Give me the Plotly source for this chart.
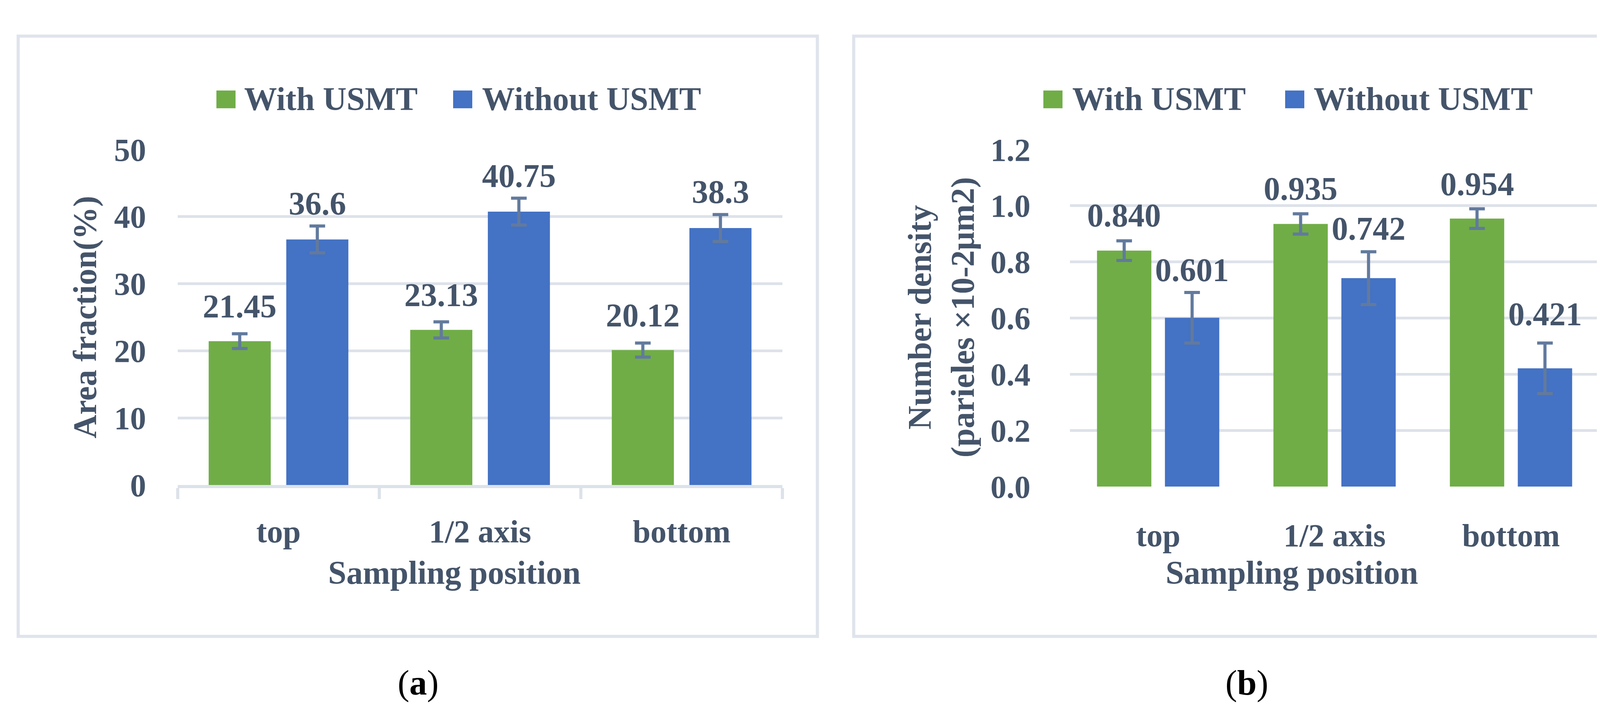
import plotly.graph_objects as go

# ---------------- data ----------------
categories = ["top", "1/2 axis", "bottom"]
series_names = ["With USMT", "Without USMT"]

area_with = [21.45, 23.13, 20.12]
area_without = [36.6, 40.75, 38.3]
area_with_err = [1.1, 1.2, 1.05]
area_without_err = [2.0, 2.0, 2.0]

dens_with = [0.840, 0.935, 0.954]
dens_without = [0.601, 0.742, 0.421]
dens_with_err = [0.035, 0.036, 0.035]
dens_without_err = [0.09, 0.094, 0.09]

area_yticks = [0, 10, 20, 30, 40, 50]
dens_yticks = [0.0, 0.2, 0.4, 0.6, 0.8, 1.0, 1.2]

title_a_y = "Area fraction(%)"
title_b_y = "Number density<br>(parieles ×10-2μm2)"
title_x = "Sampling position"
captions = ["(<b>a</b>)", "(<b>b</b>)"]

# ---------------- style ----------------
W, H = 4218, 1849
GREEN = "#70AD47"
BLUE = "#4472C4"
ERR = "#627A9D"
GRID = "#DDE2EA"
TXT = "#44546A"
FONT = "Liberation Serif"
FS = 84
BARGAP = 0.23
BARGROUPGAP = 0.2

def px(x):
    return x / W

def py(y):
    return 1 - y / H

fig = go.Figure()

panels = [
    dict(xa="x", ya="y", vals=[area_with, area_without],
         errs=[area_with_err, area_without_err],
         fmt=lambda v: f"{v:g}", shifts=[[41, 41, 41], [43, 43, 44]]),
    dict(xa="x2", ya="y2", vals=[dens_with, dens_without],
         errs=[dens_with_err, dens_without_err],
         fmt=lambda v: f"{v:.3f}", shifts=[[42, 42, 40], [74, 78, 90]]),
]
colors = [GREEN, BLUE]

annotations = []
off = (1 - BARGAP) / 4
for p in panels:
    for si in range(2):
        fig.add_trace(go.Bar(
            x=categories, y=p["vals"][si], name=series_names[si],
            marker=dict(color=colors[si], line=dict(width=0)),
            error_y=dict(type="data", array=p["errs"][si], color=ERR,
                         thickness=8, width=20),
            xaxis=p["xa"], yaxis=p["ya"], showlegend=False,
        ))
        for ci, v in enumerate(p["vals"][si]):
            annotations.append(dict(
                x=ci + (-off if si == 0 else off), y=v,
                xref=p["xa"], yref=p["ya"], text=p["fmt"](v),
                showarrow=False, xanchor="center", yanchor="bottom",
                yshift=p["shifts"][si][ci],
                font=dict(family=FONT, size=FS, color=TXT, weight="bold"),
            ))

# axis titles
annotations.append(dict(x=px(210), y=py(800), xref="paper", yref="paper",
                        text=title_a_y, textangle=-90, showarrow=False,
                        xanchor="center", yanchor="middle",
                        font=dict(family=FONT, size=FS, color=TXT, weight="bold")))
annotations.append(dict(x=px(2402), y=py(800), xref="paper", yref="paper",
                        text=title_b_y, textangle=-90, showarrow=False,
                        xanchor="center", yanchor="middle",
                        font=dict(family=FONT, size=FS, color=TXT, weight="bold")))
for cx in (1155, 3299):
    annotations.append(dict(x=px(cx), y=py(1488), xref="paper", yref="paper",
                            text=title_x, showarrow=False,
                            xanchor="center", yanchor="middle",
                            font=dict(family=FONT, size=FS, color=TXT, weight="bold")))
# captions
for cx, cap in zip((1062, 3184), captions):
    annotations.append(dict(x=px(cx), y=py(1785), xref="paper", yref="paper",
                            text=cap, showarrow=False,
                            xanchor="center", yanchor="middle",
                            font=dict(family=FONT, size=90, color="#000000")))

# legends (manual)
shapes = []
legend_pos = [
    [(546, 615), (1152, 1224)],
    [(2663, 2735), (3282, 3353)],
]
for lp in legend_pos:
    for si, (sx, tx) in enumerate(lp):
        shapes.append(dict(type="rect", xref="paper", yref="paper",
                           x0=px(sx), x1=px(sx + 49), y0=py(237), y1=py(189),
                           fillcolor=colors[si], line=dict(width=0)))
        annotations.append(dict(x=px(tx), y=py(212), xref="paper", yref="paper",
                                text=series_names[si], showarrow=False,
                                xanchor="left", yanchor="middle",
                                font=dict(family=FONT, size=FS, color=TXT, weight="bold")))

# panel boxes
for x0, x1 in ((38.5, 2084.5), (2177.5, 4183.5)):
    shapes.append(dict(type="rect", xref="paper", yref="paper",
                       x0=px(x0), x1=px(x1), y0=py(1659.5), y1=py(42.5),
                       line=dict(color="#DFE4EC", width=8), fillcolor="rgba(0,0,0,0)",
                       layer="below"))

tickfont = dict(family=FONT, size=82, color=TXT, weight="bold")

fig.update_layout(
    width=W, height=H, margin=dict(l=0, r=0, t=0, b=0),
    paper_bgcolor="white", plot_bgcolor="white",
    barmode="group", bargap=BARGAP, bargroupgap=BARGROUPGAP,
    showlegend=False,
    font=dict(family=FONT, color=TXT),
    annotations=annotations, shapes=shapes,
    xaxis=dict(domain=[px(447), px(1995)], anchor="y", type="category",
               showgrid=False, showline=True, linecolor=GRID, linewidth=8,
               ticks="outside", tickson="boundaries", ticklen=28, tickwidth=8,
               tickcolor=GRID, tickfont=tickfont, ticklabelstandoff=40,
               zeroline=False),
    yaxis=dict(domain=[py(1252), py(348)], anchor="x", range=[0, 50],
               tickvals=area_yticks, showgrid=True, gridcolor=GRID, gridwidth=7,
               zeroline=False, showline=False, ticks="", tickfont=tickfont,
               ticklabelstandoff=80),
    xaxis2=dict(domain=[px(2731), px(4086)], anchor="y2", type="category",
                showgrid=False, showline=False, ticks="", tickfont=tickfont,
                ticklabelstandoff=70, zeroline=False),
    yaxis2=dict(domain=[py(1256), py(348)], anchor="x2", range=[0, 1.2],
                tickvals=dens_yticks, tickformat=".1f", showgrid=True,
                gridcolor=GRID, gridwidth=7, zeroline=False, showline=False,
                ticks="", tickfont=tickfont, ticklabelstandoff=100),
)

fig.write_html("out.html")
